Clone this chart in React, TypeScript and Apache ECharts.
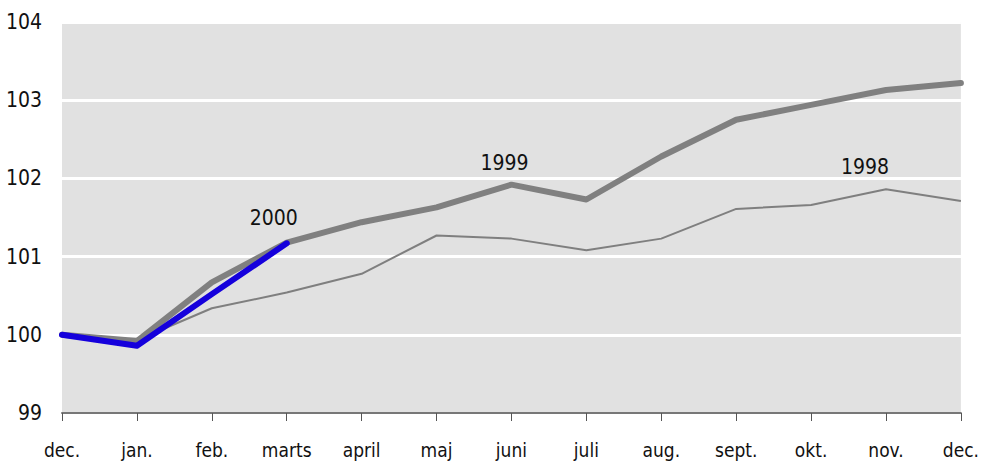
import React, { useEffect, useRef } from "react";
import * as echarts from "echarts";

const months = ["dec.", "jan.", "feb.", "marts", "april", "maj", "juni", "juli", "aug.", "sept.", "okt.", "nov.", "dec."];
const s1998 = [100, 99.93, 100.34, 100.54, 100.78, 101.27, 101.23, 101.08, 101.23, 101.61, 101.66, 101.86, 101.71];
const s1999 = [100, 99.92, 100.67, 101.18, 101.44, 101.63, 101.92, 101.73, 102.28, 102.75, 102.94, 103.13, 103.22];
const s2000 = [100, 99.86, 100.52, 101.17];
const yTicks = { min: 99, max: 104, interval: 1 };
const labels = [
  { name: "1998", index: 11, series: s1998, offset: [-21, -1] },
  { name: "1999", index: 6, series: s1999, offset: [-7, -1] },
  { name: "2000", index: 3, series: s2000, offset: [-13, -4] },
];

const FONT = "'Liberation Sans Narrow', 'DejaVu Sans Condensed', 'Arial Narrow', sans-serif";

export default function App() {
  const ref = useRef<HTMLDivElement>(null);
  useEffect(() => {
    if (!ref.current) return;
    const chart = echarts.init(ref.current, null, { renderer: "svg" });
    const mk = (name: string) => {
      const l = labels.find((x) => x.name === name)!;
      return {
        symbol: "rect",
        symbolSize: 1,
        itemStyle: { color: "rgba(0,0,0,0)" },
        label: {
          show: true,
          formatter: name,
          position: "top",
          distance: 10,
          offset: l.offset,
          color: "#111",
          fontSize: 21,
          fontFamily: FONT,
        },
        data: [{ coord: [l.index, l.series[l.index]] }],
      };
    };
    chart.setOption({
      animation: false,
      grid: {
        left: 62,
        right: 19,
        top: 22,
        bottom: 48,
        show: true,
        backgroundColor: "#e1e1e1",
        borderWidth: 0,
      },
      xAxis: {
        type: "category",
        data: months,
        boundaryGap: false,
        axisLine: { lineStyle: { color: "#777", width: 2 } },
        axisTick: { show: true, length: 8, interval: 0, lineStyle: { color: "#555", width: 1 } },
        axisLabel: { interval: 0, color: "#111", fontSize: 19, lineHeight: 20, fontFamily: FONT, margin: 27 },
        splitLine: { show: false },
      },
      yAxis: {
        type: "value",
        min: yTicks.min,
        max: yTicks.max,
        interval: yTicks.interval,
        axisLine: { show: false },
        axisTick: { show: false },
        axisLabel: { color: "#111", fontSize: 21, fontFamily: FONT, margin: 20 },
        splitLine: { show: true, lineStyle: { color: "#ffffff", width: 3 } },
      },
      series: [
        {
          name: "1998",
          type: "line",
          data: s1998,
          showSymbol: false,
          lineStyle: { color: "#7f7f7f", width: 2 },
          z: 2,
          markPoint: mk("1998"),
        },
        {
          name: "1999",
          type: "line",
          data: s1999,
          showSymbol: false,
          lineStyle: { color: "#808080", width: 6, cap: "round", join: "round" },
          z: 3,
          markPoint: mk("1999"),
        },
        {
          name: "2000",
          type: "line",
          data: s2000,
          showSymbol: false,
          lineStyle: { color: "#1500dc", width: 6, cap: "round", join: "round" },
          z: 4,
          markPoint: mk("2000"),
        },
      ],
    });
    return () => chart.dispose();
  }, []);
  return <div ref={ref} style={{ width: 982, height: 461, position: "absolute", left: 0, top: 0 }} />;
}
